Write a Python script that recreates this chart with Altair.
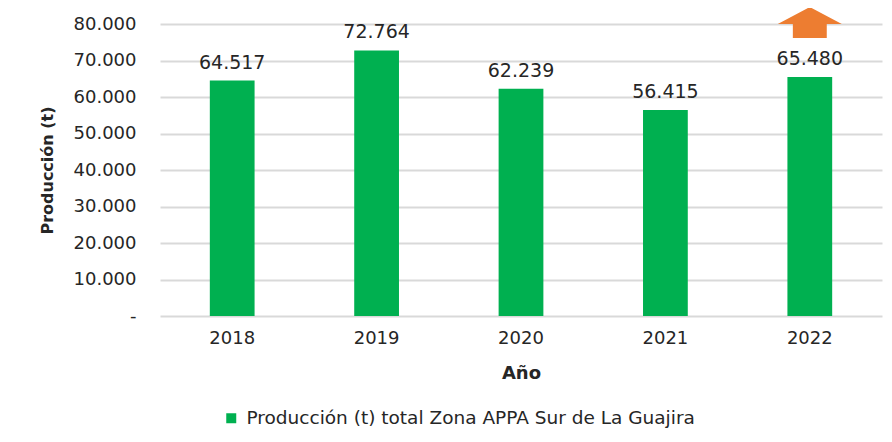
import altair as alt
import pandas as pd

years = ["2018", "2019", "2020", "2021", "2022"]
production = [64517, 72764, 62239, 56415, 65480]
series_name = "Producción (t) total Zona APPA Sur de La Guajira"
y_ticks = [0, 10000, 20000, 30000, 40000, 50000, 60000, 70000, 80000]
arrow_year = ["2022"]
arrow_level = [80000]

df = pd.DataFrame({"Año": years, "Producción": production, "serie": [series_name] * len(years)})
arrow_df = pd.DataFrame({"Año": arrow_year, "Producción": arrow_level})

FONT = "DejaVu Sans"
TXT = "#262626"

x_axis = alt.Axis(title="Año", labelAngle=0, labelFontSize=18, labelPadding=13,
                  titleFontSize=18, titleFontWeight="bold", titlePadding=17,
                  domain=False, ticks=False, grid=False)
x_scale = alt.Scale(paddingInner=0.69, paddingOuter=0.345)
y_axis = alt.Axis(title="Producción (t)", values=y_ticks,
                  labelExpr="datum.value == 0 ? '-\u00a0\u00a0' : replace(format(datum.value, ',.0f'), ',', '.')",
                  labelFontSize=18, labelPadding=24, labelOverlap=False,
                  titleFontSize=16, titleFontWeight="bold", titlePadding=18,
                  domain=False, ticks=False, grid=True,
                  gridColor="#D9D9D9", gridWidth=2)
y_scale = alt.Scale(domain=[0, 80000], nice=False)


def xe():
    return alt.X("Año:N", sort=years, scale=x_scale, axis=x_axis)


def ye():
    return alt.Y("Producción:Q", scale=y_scale, axis=y_axis)


bars = alt.Chart(df).mark_bar(color="#00B050").encode(
    x=xe(),
    y=ye(),
    color=alt.Color("serie:N", scale=alt.Scale(range=["#00B050"]),
                    legend=alt.Legend(title=None, orient="none", legendX=62, legendY=385,
                                      symbolType="square", symbolSize=100, labelFontSize=18.5,
                                      symbolOpacity=1, labelOffset=6, padding=0,
                                      labelLimit=800)),
)

labels = alt.Chart(df).transform_calculate(
    lab="replace(format(datum['Producción'], ',.0f'), ',', '.')"
).mark_text(dy=-18, fontSize=19, font=FONT, color=TXT).encode(
    x=xe(),
    y=ye(),
    text="lab:N",
)

arrow_path = "M0,-0.53 L1,0 L0.53,0 L0.53,0.44 L-0.53,0.44 L-0.53,0 L-1,0 Z"
arrow = alt.Chart(arrow_df).mark_point(
    shape=arrow_path, size=4096, filled=True, color="#ED7D31", opacity=1, clip=False
).encode(
    x=xe(),
    y=ye(),
)

chart = alt.layer(bars, labels, arrow).properties(
    width=722, height=292,
    autosize=alt.AutoSizeParams(type="none"),
    padding={"left": 152, "top": 16, "right": 2, "bottom": 118},
).configure(font=FONT).configure_axis(
    labelColor=TXT, titleColor=TXT, labelFont=FONT, titleFont=FONT
).configure_legend(
    labelColor=TXT, labelFont=FONT
).configure_view(stroke=None)

chart.save("out.html", embed_options={"renderer": "svg", "actions": False})
